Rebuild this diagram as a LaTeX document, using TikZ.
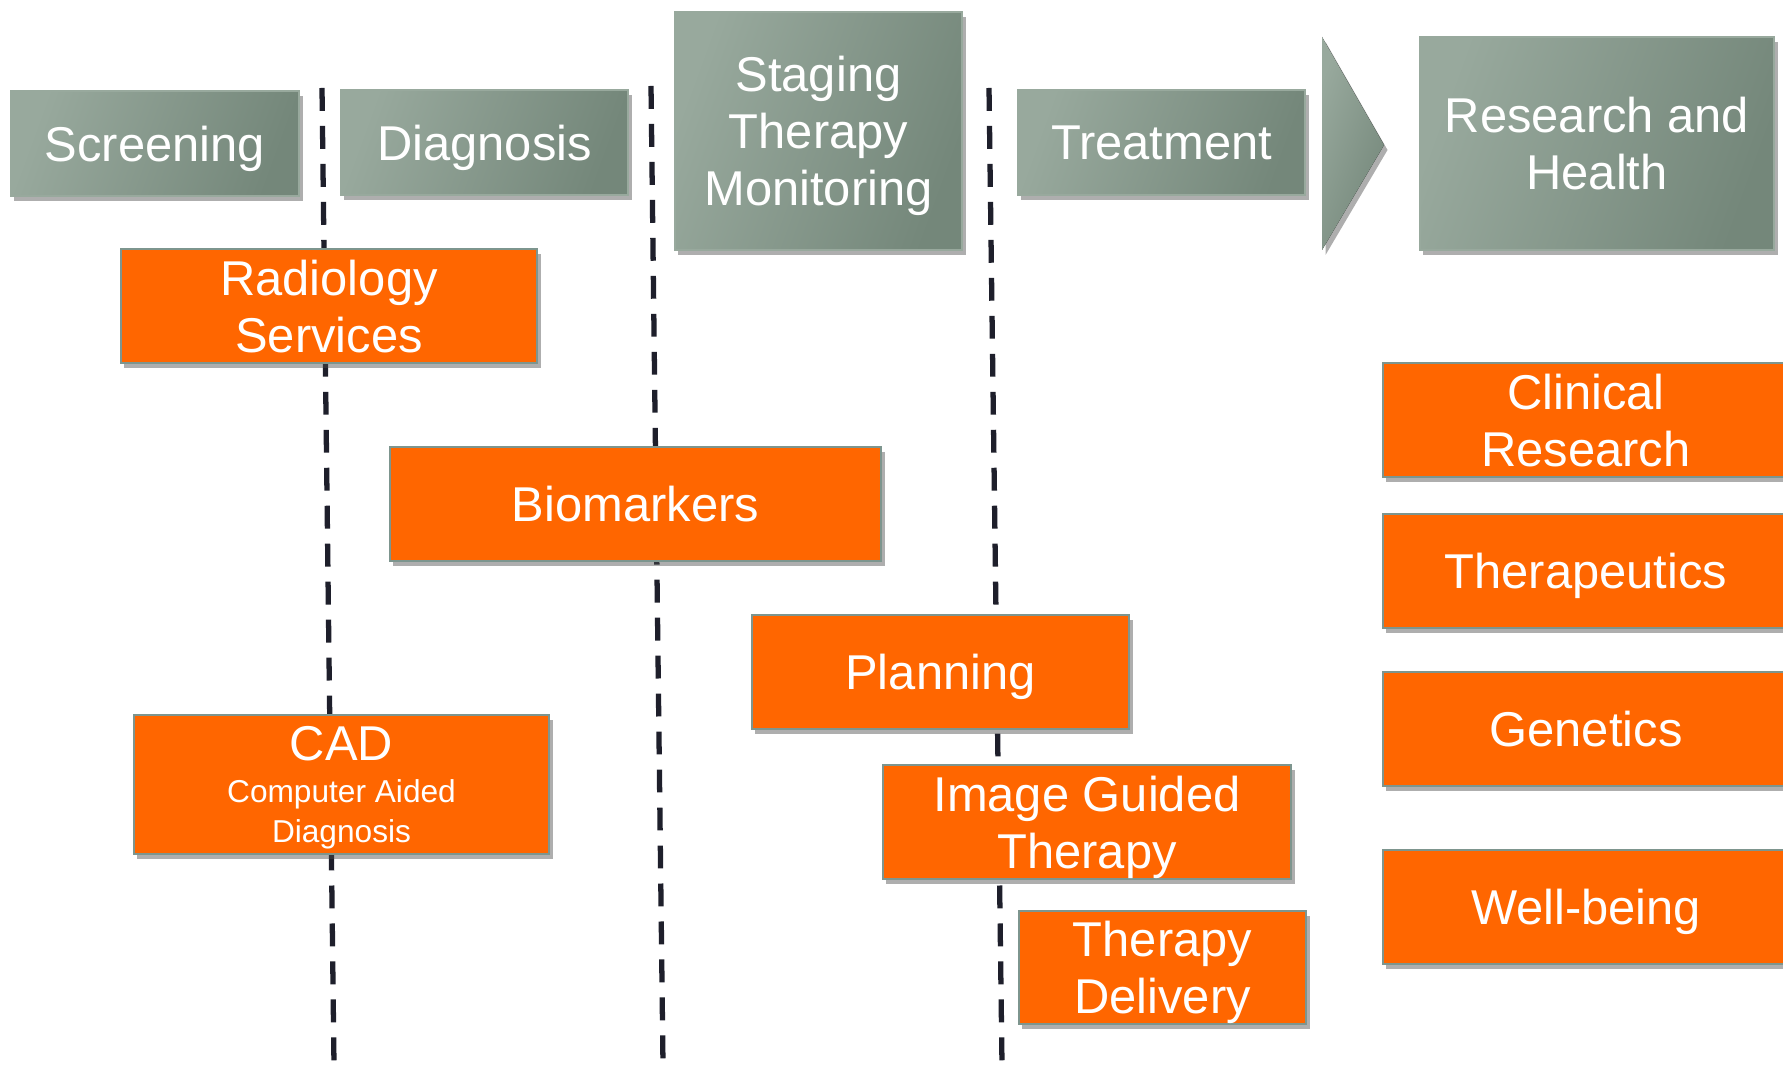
\documentclass[tikz,border=0pt]{standalone}
\usepackage{fontspec}
\setmainfont{Liberation Sans}
\usetikzlibrary{shadows}
\definecolor{gl}{HTML}{98A99D}
\definecolor{gd}{HTML}{74877A}
\definecolor{org}{HTML}{FF6600}
\definecolor{obd}{HTML}{7D958E}
\definecolor{dsh}{HTML}{1E1F2B}
\tikzset{
  base/.style={align=center, text=white, inner sep=0pt, text depth=-1.4pt,
    font=\fontsize{13.9}{16.2}\selectfont,
    drop shadow={shadow xshift=0.035cm, shadow yshift=-0.05cm, opacity=0.45, fill=black!70}},
  gbox/.style={base, left color=gl, right color=gd, shading angle=70, draw=gl, line width=0.5pt},
  obox/.style={base, fill=org, draw=obd, line width=0.7pt},
  divider/.style={draw=dsh, line width=1.5pt, dash pattern=on 6.5pt off 4.3pt},
}
\begin{document}
\begin{tikzpicture}[x=0.01cm, y=-0.01cm]
\useasboundingbox (0,0) rectangle (1783,1065);
\fill[white] (0,0) rectangle (1783,1065);

% dividers
\coordinate (d1t) at (322,88);  \coordinate (d1b) at (334,1065);
\coordinate (d2t) at (651,86);  \coordinate (d2b) at (663,1065);
\coordinate (d3t) at (989,88);  \coordinate (d3b) at (1002,1065);
\draw[divider] (d1t) -- (d1b);
\draw[divider] (d2t) -- (d2b);
\draw[divider] (d3t) -- (d3b);

% top stages
\node[gbox, minimum width=2.88cm, minimum height=1.05cm, text depth=-0.5pt] (scr) at (155,143.5) {Screening};
\node[gbox, minimum width=2.87cm, minimum height=1.05cm, text depth=-0.5pt] (dia) at (484.5,142.5) {Diagnosis};
\node[gbox, minimum width=2.87cm, minimum height=2.38cm, text depth=-0.5pt] (stg) at (818.5,131) {Staging\\Therapy\\Monitoring};
\node[gbox, minimum width=2.87cm, minimum height=1.05cm, text depth=-0.5pt] (trt) at (1161.5,142.5) {Treatment};
\fill[left color=gl, right color=gd, shading angle=70,
  drop shadow={shadow xshift=0.035cm, shadow yshift=-0.05cm, opacity=0.45, fill=black!70}]
  (1322,37) -- (1384,145) -- (1322,250) -- cycle;
\node[gbox, minimum width=3.54cm, minimum height=2.13cm] (rh) at (1597,143.5) {Research and\\Health};

% activities
\node[obox, minimum width=4.16cm, minimum height=1.14cm] (rad) at (329,306) {Radiology\\Services};
\node[obox, minimum width=4.91cm, minimum height=1.14cm] (bio) at (635.5,504) {Biomarkers};
\node[obox, minimum width=3.77cm, minimum height=1.14cm] (pln) at (940.5,672) {Planning};
\node[obox, minimum width=4.08cm, minimum height=1.14cm] (igt) at (1087,822) {Image Guided\\Therapy};
\node[obox, minimum width=2.87cm, minimum height=1.13cm] (tdl) at (1162.5,967.5) {Therapy\\Delivery};
\node[obox, minimum width=4.15cm, minimum height=1.39cm, text depth=-3.1pt] (cad) at (341.5,784.5)
  {CAD\\[-4.3pt]\fontsize{9}{10.2}\selectfont Computer Aided\\[-4.8pt]\fontsize{9}{10.2}\selectfont Diagnosis};

% research
\node[obox, minimum width=4.06cm, minimum height=1.14cm] (cr) at (1586,420) {Clinical\\Research};
\node[obox, minimum width=4.06cm, minimum height=1.14cm] (thp) at (1586,571) {Therapeutics};
\node[obox, minimum width=4.06cm, minimum height=1.14cm] (gen) at (1586,729) {Genetics};
\node[obox, minimum width=4.06cm, minimum height=1.14cm] (wb) at (1586,907) {Well-being};
\end{tikzpicture}
\end{document}
